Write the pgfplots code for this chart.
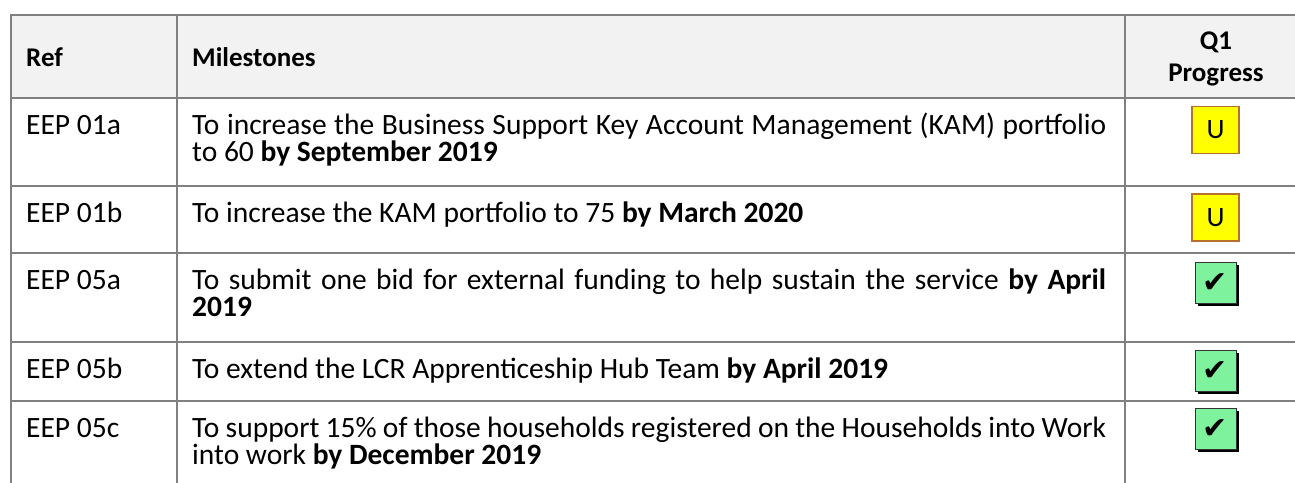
\documentclass[border=0pt]{standalone}
\usepackage{pgfplots}
\pgfplotsset{compat=1.18}
\usepackage{fontspec}
\setmainfont{Carlito}
\newfontfamily\dejavu{DejaVu Sans}
\definecolor{rule}{HTML}{808080}
\definecolor{headbg}{HTML}{F2F2F2}
\definecolor{ubox}{HTML}{FFFF00}
\definecolor{uborder}{HTML}{B8702E}
\definecolor{chk}{HTML}{7EF29D}
\newcommand{\bodyfont}{\fontsize{29.5}{27}\selectfont}
\newcommand{\headfont}{\fontsize{27}{32}\selectfont\bfseries}
\begin{document}
\begin{tikzpicture}
\begin{axis}[
  width=1295pt, height=482pt, scale only axis,
  xmin=0, xmax=1295, ymin=0, ymax=482, y dir=reverse,
  hide axis, clip=true,
]
% canvas
\addplot[fill=white, draw=none] coordinates {(0,0) (1295,0) (1295,482) (0,482)} --cycle;
% header background
\addplot[fill=headbg, draw=none] coordinates {(11,15) (1310,15) (1310,98) (11,98)} --cycle;
% horizontal rules
\addplot[rule, line width=2pt] coordinates {(10,15) (1310,15)};
\addplot[rule, line width=2pt] coordinates {(10,98) (1310,98)};
\addplot[rule, line width=2pt] coordinates {(10,186) (1310,186)};
\addplot[rule, line width=2pt] coordinates {(10,253) (1310,253)};
\addplot[rule, line width=2pt] coordinates {(10,342) (1310,342)};
\addplot[rule, line width=2pt] coordinates {(10,401) (1310,401)};
% vertical rules
\addplot[rule, line width=2pt] coordinates {(11,15) (11,490)};
\addplot[rule, line width=2pt] coordinates {(177,15) (177,490)};
\addplot[rule, line width=2pt] coordinates {(1125,15) (1125,490)};
% U status boxes
\addplot[fill=ubox, draw=uborder, line width=1.3pt] coordinates {(1192,106.5) (1239,106.5) (1239,153.5) (1192,153.5)} --cycle;
\addplot[fill=ubox, draw=uborder, line width=1.3pt] coordinates {(1192,194) (1239,194) (1239,241) (1192,241)} --cycle;
% tick status boxes: shadow, then box
\addplot[fill=black, draw=none] coordinates {(1197.5,265) (1238.5,265) (1238.5,306) (1197.5,306)} --cycle;
\addplot[fill=chk, draw=black!80, line width=0.8pt] coordinates {(1195,262.5) (1236,262.5) (1236,303.5) (1195,303.5)} --cycle;
\addplot[fill=black, draw=none] coordinates {(1197.5,353) (1238.5,353) (1238.5,394) (1197.5,394)} --cycle;
\addplot[fill=chk, draw=black!80, line width=0.8pt] coordinates {(1195,350.5) (1236,350.5) (1236,391.5) (1195,391.5)} --cycle;
\addplot[fill=black, draw=none] coordinates {(1197.5,411) (1238.5,411) (1238.5,452) (1197.5,452)} --cycle;
\addplot[fill=chk, draw=black!80, line width=0.8pt] coordinates {(1195,408.5) (1236,408.5) (1236,449.5) (1195,449.5)} --cycle;
% status glyphs
\node[font=\fontsize{28}{28}\selectfont] at (axis cs:1215.5,130) {U};
\node[font=\fontsize{28}{28}\selectfont] at (axis cs:1215.5,217.5) {U};
\node[font=\dejavu\fontsize{30}{30}\selectfont] at (axis cs:1215.5,283.5) {✔};
\node[font=\dejavu\fontsize{30}{30}\selectfont] at (axis cs:1215.5,371.5) {✔};
\node[font=\dejavu\fontsize{30}{30}\selectfont] at (axis cs:1215.5,429.5) {✔};
% header text
\node[anchor=base west, inner sep=0pt, font=\headfont] at (axis cs:26,66) {Ref};
\node[anchor=base west, inner sep=0pt, font=\headfont] at (axis cs:192,66) {Milestones};
\node[anchor=base, inner sep=0pt, font=\headfont] at (axis cs:1216,49) {Q1};
\node[anchor=base, inner sep=0pt, font=\headfont] at (axis cs:1216,81) {Progress};
% Ref column
\node[anchor=base west, inner sep=0pt, font=\bodyfont] at (axis cs:26,134) {EEP 01a};
\node[anchor=base west, inner sep=0pt, font=\bodyfont] at (axis cs:26,222) {EEP 01b};
\node[anchor=base west, inner sep=0pt, font=\bodyfont] at (axis cs:26,289) {EEP 05a};
\node[anchor=base west, inner sep=0pt, font=\bodyfont] at (axis cs:26,378) {EEP 05b};
\node[anchor=base west, inner sep=0pt, font=\bodyfont] at (axis cs:26,437) {EEP 05c};
% Milestones column
\node[anchor=base west, inner sep=0pt, text width=914pt, align=justify, font=\bodyfont] at (axis cs:192,134)
  {To increase the Business Support Key Account Management (KAM) portfolio\linebreak to 60 \textbf{by September 2019}};
\node[anchor=base west, inner sep=0pt, text width=914pt, align=justify, font=\bodyfont] at (axis cs:192,222)
  {To increase the KAM portfolio to 75 \textbf{by March 2020}};
\node[anchor=base west, inner sep=0pt, text width=914pt, align=justify, font=\bodyfont] at (axis cs:192,289)
  {To submit one bid for external funding to help sustain the service \textbf{by April}\linebreak \textbf{2019}};
\node[anchor=base west, inner sep=0pt, text width=914pt, align=justify, font=\bodyfont] at (axis cs:192,378)
  {To extend the LCR Apprenticeship Hub Team \textbf{by April 2019}};
\node[anchor=base west, inner sep=0pt, text width=914pt, align=justify, font=\bodyfont] at (axis cs:192,437)
  {To support 15\% of those households registered on the Households into Work\linebreak into work \textbf{by December 2019}};
\end{axis}
\end{tikzpicture}
\end{document}
